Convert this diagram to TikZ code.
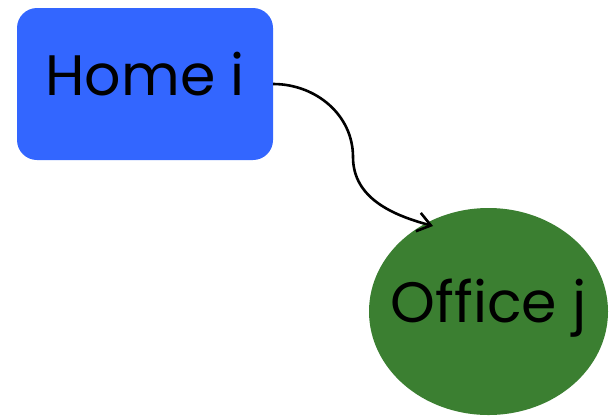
\documentclass[tikz,border=0pt]{standalone}
\usepackage{fontspec}
\setmainfont{Poppins}
\usepackage{tikz}
\usetikzlibrary{arrows.meta,shapes.geometric}
\usepackage{xcolor}
\definecolor{homeblue}{HTML}{3366FF}
\definecolor{officegreen}{HTML}{3B7F31}

\begin{document}
\begin{tikzpicture}[
  x=1pt, y=1pt,
  font=\fontsize{57}{68}\selectfont,
  fl/.style   = {-{Straight Barb[length=13pt,width=19pt]}, line width=2.6pt},
  place/.style = {inner sep=0pt, text height=48pt, text depth=26pt},
  house/.style = {place, fill=homeblue, rounded corners=20pt,
                  minimum width=256pt, minimum height=152pt},
  work/.style  = {place, ellipse, fill=officegreen,
                  minimum width=239pt, minimum height=207pt},
]
\useasboundingbox (0,0) rectangle (609,-416);

% ================= places ==============================================
\node[house] (home)   at (145,-84)     {Home i};
\node[work]  (office) at (488.5,-311.5) {\makebox[0pt]{Office j}};

% ================= trip ================================================
\coordinate (bend) at (353,-157);
\coordinate (tip)  at (433,-226);
\draw[fl] (home.east) to[out=0, in=90] (bend) to[out=-90, in=165] (tip);

\end{tikzpicture}
\end{document}
